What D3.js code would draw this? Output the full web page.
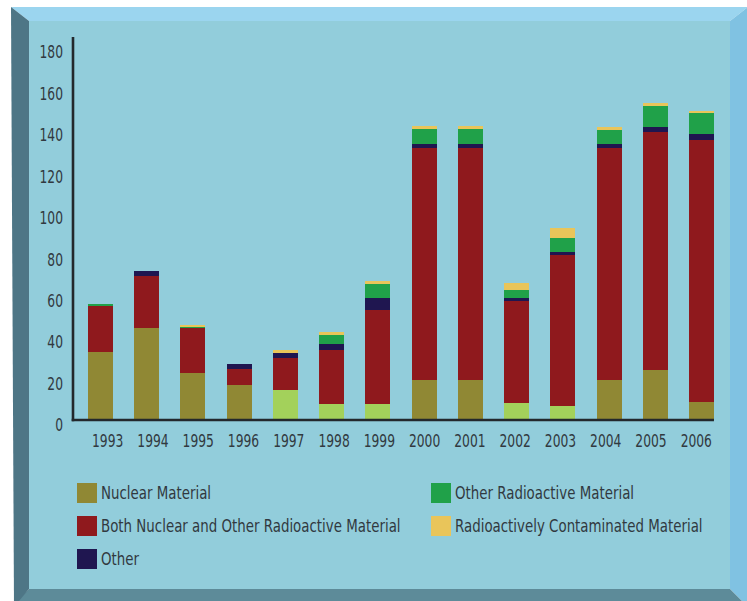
<!DOCTYPE html>
<html>
<head>
<meta charset="utf-8">
<script src="https://cdn.jsdelivr.net/npm/d3@7"></script>
<style>
  body { margin: 0; background: #fff; }
  svg text { font-family: "Liberation Sans Narrow", "DejaVu Sans Condensed", "DejaVu Sans", sans-serif; fill: #313940; }
</style>
</head>
<body>
<svg id="chart" width="747" height="601"></svg>
<script>
// data (incidents per year)
var years = ["1993","1994","1995","1996","1997","1998","1999","2000","2001","2002","2003","2004","2005","2006"];
var nuclear      = [33, 44.5, 22.7, 17, 14.5, 7.7, 7.7, 19.3, 19.3, 8.3, 6.9, 19.3, 24.1, 8.8];
var both         = [22, 25, 21.7, 7.6, 15.4, 26.1, 45.4, 112, 112, 49.1, 72.7, 112, 114.9, 126.3];
var other        = [0, 2.4, 0, 2.4, 2.4, 2.9, 5.8, 1.9, 1.9, 1.5, 1.5, 1.9, 2.4, 2.9];
var otherRad     = [1, 0, 0.6, 0, 0, 4.3, 6.7, 7.2, 7.2, 3.8, 6.7, 6.8, 10.1, 10.2];
var contaminated = [0, 0, 0.7, 0, 1.6, 1.5, 1.3, 1.5, 1.5, 3.4, 4.9, 1.4, 1.3, 0.8];
// years where the nuclear segment is drawn in the lighter shade
var lightNuclearYears = ["1997","1998","1999","2002","2003"];
var yTicks = [0, 20, 40, 60, 80, 100, 120, 140, 160, 180];

var seriesKeys   = ["nuclear", "both", "other", "otherRad", "contaminated"];
var seriesLabels = {
  nuclear: "Nuclear Material",
  both: "Both Nuclear and Other Radioactive Material",
  other: "Other",
  otherRad: "Other Radioactive Material",
  contaminated: "Radioactively Contaminated Material"
};
var colors = {
  nuclear: "#908834",
  both: "#8f191d",
  other: "#1f1650",
  otherRad: "#20a149",
  contaminated: "#e9c55a"
};
var lightNuclear = "#a3d15b";

// the original type is a condensed face, squeeze the fallback font a bit
var numSqueeze = 0.76, textSqueeze = 0.875;

var table = years.map(function (y, i) {
  return { year: y, nuclear: nuclear[i], both: both[i], other: other[i], otherRad: otherRad[i], contaminated: contaminated[i] };
});

var svg = d3.select("#chart");

// bevelled frame
var o = { l: 11, t: 7, r: 748, b: 607 };
var inn = { l: 29, t: 21, r: 730, b: 589 };
var frame = [
  { c: "#9bd5ef", p: [[o.l, o.t], [o.r, o.t], [inn.r, inn.t], [inn.l, inn.t]] },
  { c: "#80c2e2", p: [[o.r, o.t], [o.r, o.b], [inn.r, inn.b], [inn.r, inn.t]] },
  { c: "#5d8b99", p: [[o.l, o.b], [o.r, o.b], [inn.r, inn.b], [inn.l, inn.b]] },
  { c: "#4e7686", p: [[o.l, o.t], [inn.l, inn.t], [inn.l, inn.b], [o.l + 3, o.b]] }
];
svg.selectAll("polygon.frame")
  .data(frame).enter()
  .append("polygon")
  .attr("class", "frame")
  .attr("points", function (d) { return d.p.map(function (q) { return q.join(","); }).join(" "); })
  .attr("fill", function (d) { return d.c; });
svg.append("rect")
  .attr("x", inn.l).attr("y", inn.t)
  .attr("width", inn.r - inn.l).attr("height", inn.b - inn.t)
  .attr("fill", "#92cddb");

// scales
var x = d3.scaleBand()
  .domain(years)
  .range([77.4, 724.6])
  .paddingInner(0.46)
  .paddingOuter(0.23);

var y = d3.scaleLinear()
  .domain([0, 180])
  .range([420, 47]);

var stack = d3.stack().keys(seriesKeys);
var layers = stack(table);

var g = svg.append("g").attr("shape-rendering", "crispEdges");
g.selectAll("g.layer")
  .data(layers).enter()
  .append("g")
  .attr("class", "layer")
  .each(function (layer) {
    d3.select(this).selectAll("rect")
      .data(layer.filter(function (d) { return d[1] - d[0] > 0; }))
      .enter()
      .append("rect")
      .attr("x", function (d) { return x(d.data.year); })
      .attr("width", x.bandwidth())
      .attr("y", function (d) { return y(d[1]); })
      .attr("height", function (d) { return y(d[0]) - y(d[1]); })
      .attr("fill", function (d) {
        if (layer.key == "nuclear" && lightNuclearYears.indexOf(d.data.year) >= 0) return lightNuclear;
        return colors[layer.key];
      });
  });

// axes lines
var axisX0 = 73;
svg.append("line")
  .attr("x1", axisX0).attr("x2", axisX0)
  .attr("y1", 37).attr("y2", y(0) + 1.3)
  .attr("stroke", "#23282c").attr("stroke-width", 2.6);
svg.append("line")
  .attr("x1", axisX0 - 1.3).attr("x2", x(years[years.length - 1]) + x.bandwidth())
  .attr("y1", y(0)).attr("y2", y(0))
  .attr("stroke", "#23282c").attr("stroke-width", 2.6);

// y tick labels
svg.selectAll("text.ytick")
  .data(yTicks).enter()
  .append("text")
  .attr("class", "ytick")
  .attr("transform", function (d) { return "translate(63," + (y(d) + 5) + ") scale(" + numSqueeze + ",1)"; })
  .attr("dy", "0.35em")
  .attr("text-anchor", "end")
  .style("font-size", "18px")
  .text(function (d) { return d; });

// x tick labels: laid out as one line of text with even gaps
var labels = svg.append("g").selectAll("text")
  .data(years).enter()
  .append("text")
  .style("font-size", "18px")
  .text(function (d) { return d; });
var widths = [];
labels.each(function () { widths.push(this.getComputedTextLength() * numSqueeze); });
var lineStart = x(years[0]) + 4, lineEnd = x(years[years.length - 1]) + x.bandwidth() - 2;
var gap = (lineEnd - lineStart - d3.sum(widths)) / (years.length - 1);
var cursor = lineStart;
labels.attr("transform", function (d, i) {
  var px = cursor;
  cursor += widths[i] + gap;
  return "translate(" + px + ",447) scale(" + numSqueeze + ",1)";
});

// legend
var legendItems = [
  { key: "nuclear", col: 0, row: 0 },
  { key: "both", col: 0, row: 1 },
  { key: "other", col: 0, row: 2 },
  { key: "otherRad", col: 1, row: 0 },
  { key: "contaminated", col: 1, row: 1 }
];
var lg = svg.append("g").selectAll("g")
  .data(legendItems).enter()
  .append("g")
  .attr("transform", function (d) { return "translate(" + (d.col ? 431 : 77) + "," + (483 + d.row * 33) + ")"; });
lg.append("rect")
  .attr("width", 20).attr("height", 20)
  .attr("fill", function (d) { return colors[d.key]; });
lg.append("text")
  .attr("transform", "translate(24,10.5) scale(" + textSqueeze + ",1)")
  .attr("dy", "0.35em")
  .style("font-size", "17px")
  .text(function (d) { return seriesLabels[d.key]; });
</script>
</body>
</html>
